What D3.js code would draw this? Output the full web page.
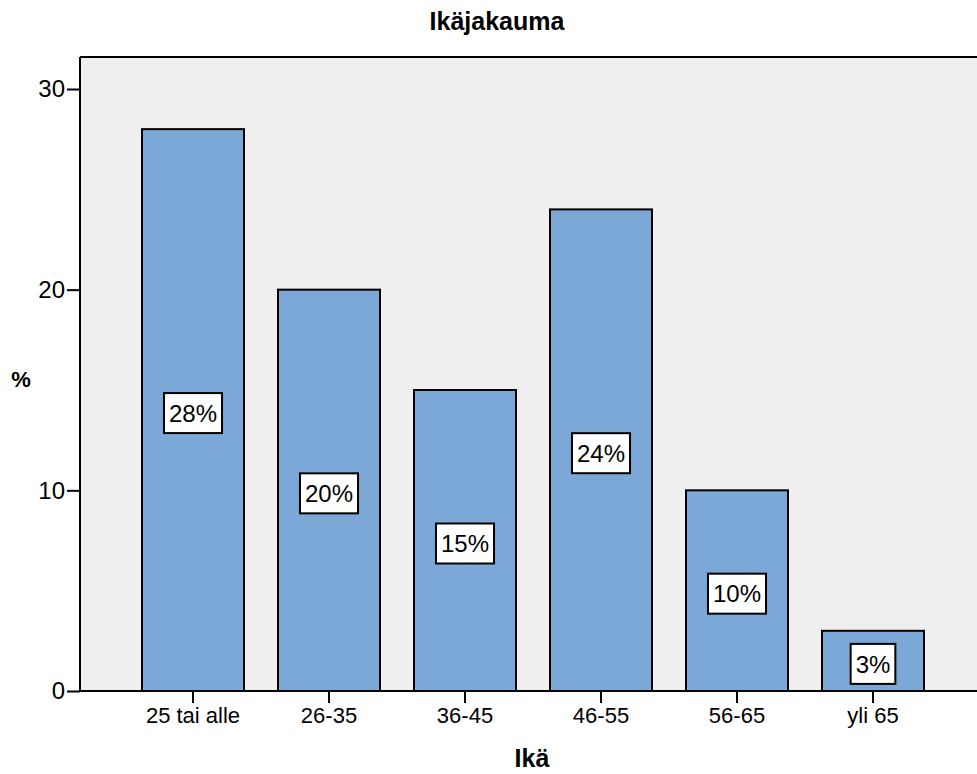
<!DOCTYPE html>
<html>
<head>
<meta charset="utf-8">
<script src="https://cdn.jsdelivr.net/npm/d3@7"></script>
<style>
  body { margin: 0; background: #fff; }
  text { font-family: "Liberation Sans", Arial, sans-serif; fill: #000; }
</style>
</head>
<body>
<svg width="977" height="774"></svg>
<script>
var categories = ["25 tai alle", "26-35", "36-45", "46-55", "56-65", "yli 65"];
var values = [28, 20, 15, 24, 10, 3];
var yTicks = [0, 10, 20, 30];

var svg = d3.select("svg"),
    plotLeft = 80, plotTop = 57, plotRight = 990, plotBottom = 691;

var x = d3.scaleBand().domain(categories).range([125, 941]).paddingInner(0.25).paddingOuter(0.125),
    y = d3.scaleLinear().domain([0, 30]).range([plotBottom, 89]);

// plot background
svg.append("rect")
    .attr("x", plotLeft).attr("y", plotTop)
    .attr("width", plotRight - plotLeft).attr("height", plotBottom - plotTop)
    .attr("fill", "#efefef");
svg.append("line")
    .attr("x1", plotLeft).attr("x2", plotRight).attr("y1", plotTop).attr("y2", plotTop)
    .attr("stroke", "#000").attr("stroke-width", 2);

// bars
svg.selectAll(".bar")
    .data(values)
    .enter().append("rect")
    .attr("class", "bar")
    .attr("x", function (d, i) { return x(categories[i]); })
    .attr("y", function (d) { return y(d); })
    .attr("width", x.bandwidth())
    .attr("height", function (d) { return plotBottom - y(d); })
    .attr("fill", "#7ba8d6")
    .attr("stroke", "#000")
    .attr("stroke-width", 2);

// value labels
var lab = svg.selectAll(".lab")
    .data(values)
    .enter().append("g")
    .attr("class", "lab")
    .attr("transform", function (d, i) {
        return "translate(" + (x(categories[i]) + x.bandwidth() / 2) + "," + (y(d / 2) + 3) + ")";
    });
lab.append("text")
    .attr("text-anchor", "middle")
    .attr("dy", "0.36em")
    .style("font-size", "24px")
    .text(function (d) { return d + "%"; })
    .each(function () {
        var b = this.getBBox();
        d3.select(this.parentNode).insert("rect", "text")
            .attr("x", -b.width / 2 - 5).attr("y", -20)
            .attr("width", b.width + 10).attr("height", 40)
            .attr("fill", "#fff").attr("stroke", "#000").attr("stroke-width", 2);
    });

// axes
var yAxis = svg.append("g")
    .attr("transform", "translate(" + plotLeft + ",0)")
    .call(d3.axisLeft(y).tickValues(yTicks).tickSize(13).tickPadding(2));
yAxis.select(".domain").attr("d", "M0," + plotTop + "V" + plotBottom).attr("stroke-width", 2);
yAxis.selectAll(".tick line").attr("stroke-width", 2);
yAxis.selectAll(".tick text").style("font-size", "24px");

var xAxis = svg.append("g")
    .attr("transform", "translate(0," + plotBottom + ")")
    .call(d3.axisBottom(x).tickSize(12).tickPadding(4));
xAxis.select(".domain").attr("d", "M" + plotLeft + ",0H" + plotRight).attr("stroke-width", 2);
xAxis.selectAll(".tick line").attr("stroke-width", 2);
xAxis.selectAll(".tick text").style("font-size", "22px");

// titles
svg.append("text")
    .attr("x", 497).attr("y", 30)
    .attr("text-anchor", "middle")
    .style("font-size", "25px").style("font-weight", "bold")
    .text("Ikäjakauma");
svg.append("text")
    .attr("x", 21).attr("y", 387)
    .attr("text-anchor", "middle")
    .style("font-size", "22px").style("font-weight", "bold")
    .text("%");
svg.append("text")
    .attr("x", 532).attr("y", 767)
    .attr("text-anchor", "middle")
    .style("font-size", "25px").style("font-weight", "bold")
    .text("Ikä");
</script>
</body>
</html>
